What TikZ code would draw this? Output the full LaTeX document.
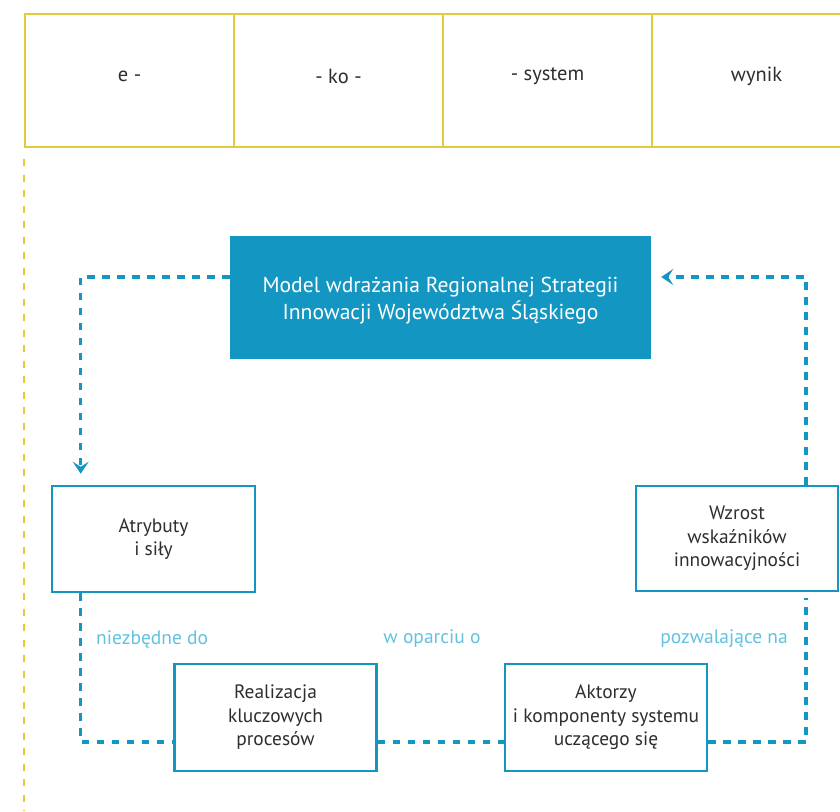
\documentclass[tikz,border=0pt]{standalone}
\usepackage{fontspec}
\setmainfont{PT Sans}
\usetikzlibrary{arrows.meta}
\definecolor{rsblue}{HTML}{1496C2}
\definecolor{rslabel}{HTML}{62C2E0}
\definecolor{rsyellow}{HTML}{E2CB3C}
\definecolor{rstext}{HTML}{2E2E2E}
\begin{document}
\begin{tikzpicture}[x=1pt,y=-1pt,
  cell/.style={draw=rsyellow,line width=2pt,minimum width=209pt,minimum height=133pt,
    anchor=north west,inner sep=0pt},
  celltext/.style={text=rstext,font=\fontsize{20.5}{24}\selectfont,yshift=4pt},
  mainbox/.style={fill=rsblue,minimum width=421pt,minimum height=123pt,inner sep=0pt},
  maintext/.style={text=white,align=center,font=\fontsize{21.6}{27}\selectfont,yshift=-3.5pt},
  stagebox/.style={draw=rsblue,line width=2.5pt,fill=white,minimum width=202pt,minimum height=106pt,
    align=center,inner sep=0pt,text=rstext,font=\fontsize{19.4}{23.5}\selectfont},
  flow/.style={draw=rsblue,line width=3.5pt,dash pattern=on 7.5pt off 7.5pt},
  tip/.tip={Stealth[length=12pt,width=16pt,inset=5pt]},
  linklabel/.style={text=rslabel,inner sep=0pt,font=\fontsize{19.5}{23}\selectfont}
]
\useasboundingbox (0,0) rectangle (840,811);
\clip (0,0) rectangle (840,811);

% header row of syllables
\node[cell,label={[celltext]center:e -}] (h1) at (24,13) {};
\node[cell,label={[celltext]center:- ko -}] (h2) at (233,13) {};
\node[cell,label={[celltext]center:- system}] (h3) at (442,13) {};
\node[cell,label={[celltext]center:wynik}] (h4) at (651,13) {};
\draw[draw=rsyellow,line width=2pt,dash pattern=on 7pt off 8.5pt]
  (h1.south west |- 0,159) -- (h1.south west |- 0,811);

% main model box
\node[mainbox,label={[maintext]center:Model wdrażania Regionalnej Strategii\\Innowacji Województwa Śląskiego}]
  (model) at (440.5,297.5) {};

% stages of the cycle
\node[stagebox,minimum width=203pt] (attr) at (153.5,539) {Atrybuty\\i siły};
\node[stagebox,minimum height=105pt] (wzrost) at (737,538.5) {Wzrost\\wskaźników\\innowacyjności};
\node[stagebox,minimum height=107pt] (real) at (275.5,717.5) {Realizacja\\kluczowych\\procesów};
\node[stagebox,minimum height=107pt] (akt) at (606,717.5) {Aktorzy\\i komponenty systemu\\uczącego się};

% routing guides
\coordinate (lx) at (80.7,0);
\coordinate (rx) at (806,0);
\coordinate (topy) at (0,277);
\coordinate (boty) at (0,742);

% connectors
\draw[flow,-{tip},shorten >=11pt] (model.west |- topy) -| (attr.north -| lx);
\draw[flow] (attr.south -| lx) |- (real.west |- boty);
\draw[flow] (real.east |- boty) -- (akt.west |- boty);
\draw[flow] (akt.east |- boty) -| ([yshift=-6pt]wzrost.south -| rx);
\draw[flow,-{tip},shorten >=10pt] (wzrost.north -| rx) |- (model.east |- topy);

% connector labels
\node[linklabel,anchor=west] (l1) at (96,639) {niezbędne do};
\node[linklabel] (l2) at (432,639) {w oparciu o};
\node[linklabel,anchor=east] (l3) at (788,639) {pozwalające na};
\end{tikzpicture}
\end{document}
